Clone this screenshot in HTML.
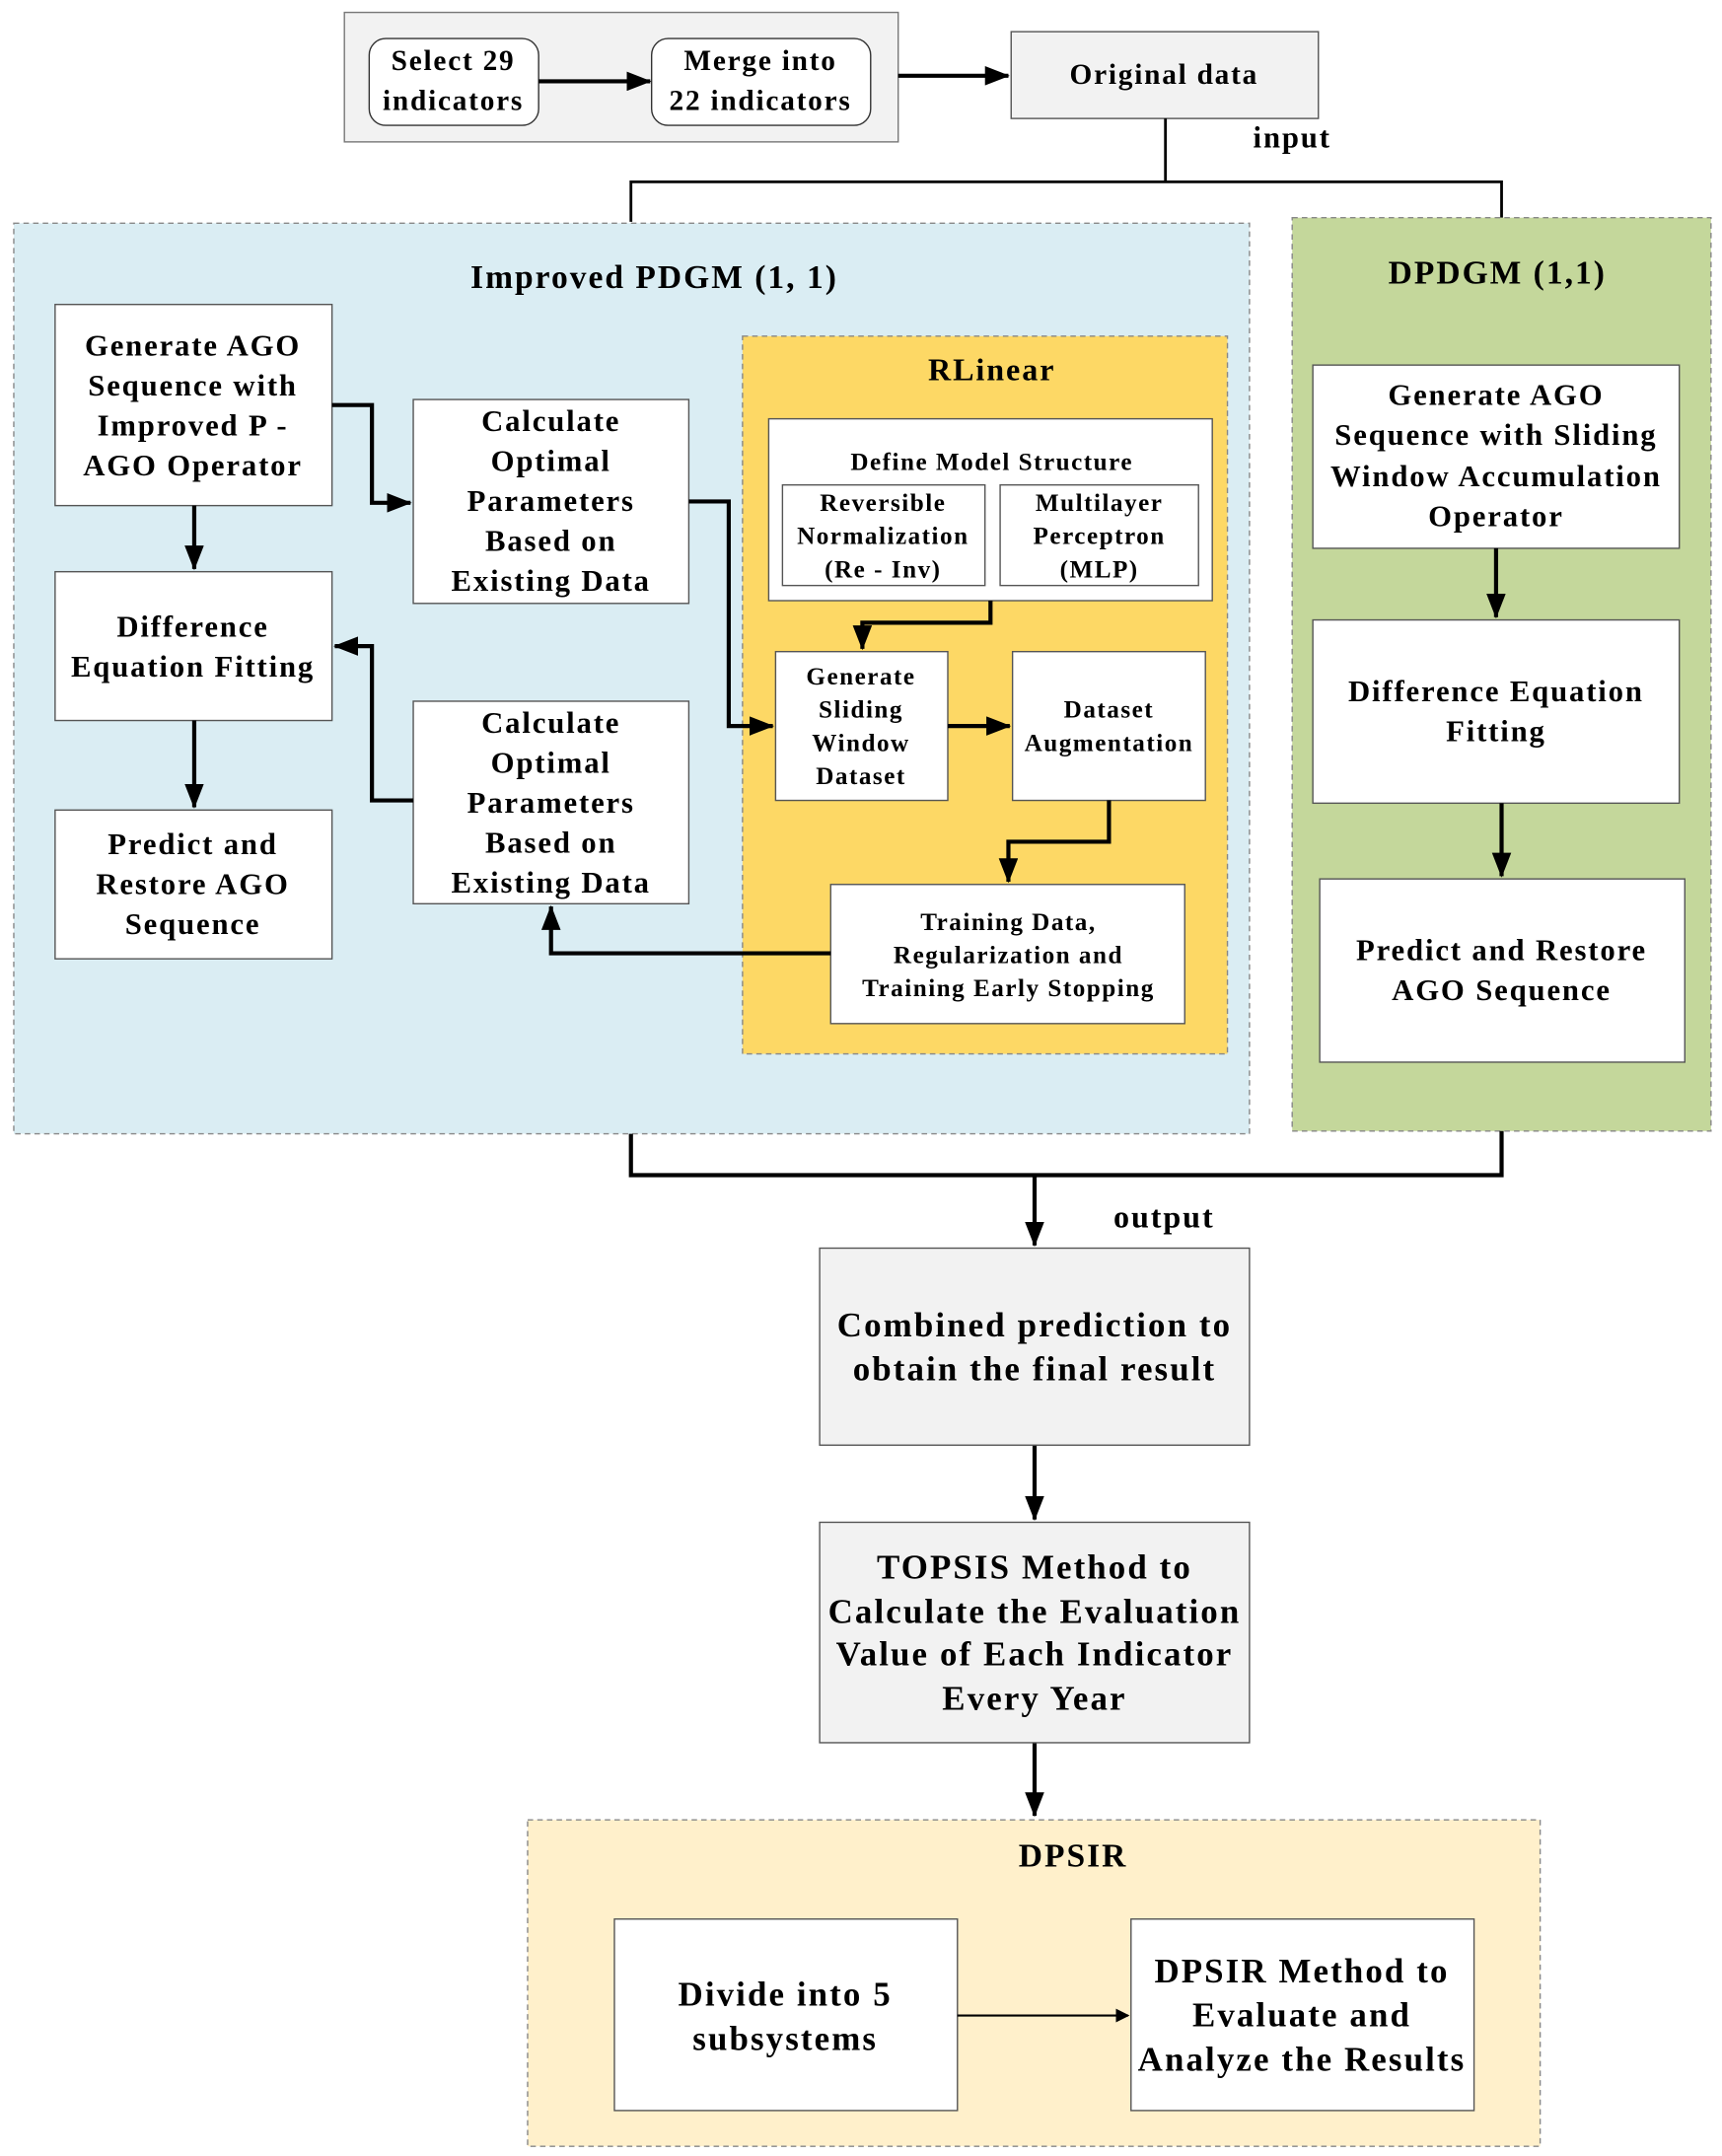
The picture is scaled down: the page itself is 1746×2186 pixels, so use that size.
<!DOCTYPE html>
<html><head><meta charset="utf-8"><style>
html,body{margin:0;padding:0;background:#fff}
svg{display:block}
text{font-family:"Liberation Serif",serif;font-weight:bold;fill:#000;text-anchor:middle;letter-spacing:0.06em}
</style></head><body>
<svg width="1746" height="2186" viewBox="0 0 1250 1565" preserveAspectRatio="none" xmlns="http://www.w3.org/2000/svg">
<defs>
<marker id="a" markerWidth="10" markerHeight="10" refX="9" refY="5" orient="auto" markerUnits="userSpaceOnUse" viewBox="0 0 10 10"><path d="M0,0 L10,5 L0,10 z" fill="#000"/></marker>
<marker id="b" markerWidth="18" markerHeight="14" refX="17" refY="7" orient="auto" markerUnits="userSpaceOnUse" viewBox="0 0 18 14"><path d="M0,0 L18,7 L0,14 z" fill="#000"/></marker>
</defs>
<rect x="250" y="9" width="402" height="94" fill="#f2f2f2" stroke="#777" stroke-width="1"/>
<rect x="268" y="28" width="123" height="63" rx="12" fill="#fff" stroke="#333"/>
<rect x="473" y="28" width="159" height="63" rx="12" fill="#fff" stroke="#333"/>
<text x="329" y="51" font-size="21">Select 29</text><text x="329" y="80" font-size="21">indicators</text>
<text x="552" y="51" font-size="21">Merge into</text><text x="552" y="80" font-size="21">22 indicators</text>
<line x1="391" y1="59" x2="472" y2="59" stroke="#000" stroke-width="3" marker-end="url(#b)"/>
<line x1="652" y1="55" x2="732" y2="55" stroke="#000" stroke-width="3" marker-end="url(#b)"/>
<rect x="734" y="23" width="223" height="63" fill="#f2f2f2" stroke="#555"/>
<text x="845" y="61" font-size="21">Original data</text>
<text x="938" y="107" font-size="22">input</text>
<path d="M846,86 V132 M458,161 V132 H1090 V158" fill="none" stroke="#000" stroke-width="2"/>
<rect x="10" y="162" width="897" height="661" fill="#daedf3" stroke="#888" stroke-dasharray="4,3"/>
<text x="475" y="209" font-size="24">Improved PDGM (1, 1)</text>
<g fill="#fff" stroke="#555">
<rect x="40" y="221" width="201" height="146"/><rect x="40" y="415" width="201" height="108"/><rect x="40" y="588" width="201" height="108"/>
<rect x="300" y="290" width="200" height="148"/><rect x="300" y="509" width="200" height="147"/>
</g>
<g font-size="22">
<text x="140" y="258">Generate AGO</text><text x="140" y="287">Sequence with</text><text x="140" y="316">Improved P -</text><text x="140" y="345">AGO Operator</text>
<text x="140" y="462">Difference</text><text x="140" y="491">Equation Fitting</text>
<text x="140" y="620">Predict and</text><text x="140" y="649">Restore AGO</text><text x="140" y="678">Sequence</text>
<text x="400" y="313">Calculate</text><text x="400" y="342">Optimal</text><text x="400" y="371">Parameters</text><text x="400" y="400">Based on</text><text x="400" y="429">Existing Data</text>
<text x="400" y="532">Calculate</text><text x="400" y="561">Optimal</text><text x="400" y="590">Parameters</text><text x="400" y="619">Based on</text><text x="400" y="648">Existing Data</text>
</g>
<rect x="539" y="244" width="352" height="521" fill="#fdd865" stroke="#888" stroke-dasharray="4,3"/>
<text x="720" y="276" font-size="23">RLinear</text>
<g fill="#fff" stroke="#555">
<rect x="558" y="304" width="322" height="132"/><rect x="568" y="352" width="147" height="73"/><rect x="726" y="352" width="144" height="73"/>
<rect x="563" y="473" width="125" height="108"/><rect x="735" y="473" width="140" height="108"/><rect x="603" y="642" width="257" height="101"/>
</g>
<g font-size="18">
<text x="720" y="341">Define Model Structure</text>
<text x="641" y="371">Reversible</text><text x="641" y="395">Normalization</text><text x="641" y="419">(Re - Inv)</text>
<text x="798" y="371">Multilayer</text><text x="798" y="395">Perceptron</text><text x="798" y="419">(MLP)</text>
<text x="625" y="497">Generate</text><text x="625" y="521">Sliding</text><text x="625" y="545">Window</text><text x="625" y="569">Dataset</text>
<text x="805" y="521">Dataset</text><text x="805" y="545">Augmentation</text>
<text x="732" y="675">Training Data,</text><text x="732" y="699">Regularization and</text><text x="732" y="723">Training Early Stopping</text>
</g>
<g fill="none" stroke="#000" stroke-width="3">
<path d="M141,367 V413" marker-end="url(#b)"/>
<path d="M141,523 V586" marker-end="url(#b)"/>
<path d="M241,294 H270 V365 H298" marker-end="url(#b)"/>
<path d="M500,364 H529 V527 H561" marker-end="url(#b)"/>
<path d="M300,581 H270 V469 H243" marker-end="url(#b)"/>
<path d="M719,436 V452 H626 V471" marker-end="url(#b)"/>
<path d="M688,527 H733" marker-end="url(#b)"/>
<path d="M805,581 V611 H732 V640" marker-end="url(#b)"/>
<path d="M603,692 H400 V658" marker-end="url(#b)"/>
</g>
<rect x="938" y="158" width="304" height="663" fill="#c4d79b" stroke="#888" stroke-dasharray="4,3"/>
<text x="1087" y="206" font-size="24">DPDGM (1,1)</text>
<g fill="#fff" stroke="#555">
<rect x="953" y="265" width="266" height="133"/><rect x="953" y="450" width="266" height="133"/><rect x="958" y="638" width="265" height="133"/>
</g>
<g font-size="22">
<text x="1086" y="294">Generate AGO</text><text x="1086" y="323">Sequence with Sliding</text><text x="1086" y="353">Window Accumulation</text><text x="1086" y="382">Operator</text>
<text x="1086" y="509">Difference Equation</text><text x="1086" y="538">Fitting</text>
<text x="1090" y="697">Predict and Restore</text><text x="1090" y="726">AGO Sequence</text>
</g>
<g fill="none" stroke="#000" stroke-width="3">
<path d="M1086,398 V448" marker-end="url(#b)"/>
<path d="M1090,583 V636" marker-end="url(#b)"/>
<path d="M458,823 V853 H1090 V821"/>
<path d="M751,853 V904" marker-end="url(#b)"/>
<path d="M751,1049 V1103" marker-end="url(#b)"/>
<path d="M751,1265 V1318" marker-end="url(#b)"/>
</g>
<text x="845" y="891" font-size="23">output</text>
<rect x="595" y="906" width="312" height="143" fill="#f2f2f2" stroke="#555"/>
<text x="751" y="970" font-size="25">Combined prediction to</text><text x="751" y="1002" font-size="25">obtain the final result</text>
<rect x="595" y="1105" width="312" height="160" fill="#f2f2f2" stroke="#555"/>
<g font-size="25"><text x="751" y="1146">TOPSIS Method to</text><text x="751" y="1178">Calculate the Evaluation</text><text x="751" y="1209">Value of Each Indicator</text><text x="751" y="1241">Every Year</text></g>
<rect x="383" y="1321" width="735" height="237" fill="#fff0cb" stroke="#888" stroke-dasharray="4,3"/>
<text x="779" y="1355" font-size="24">DPSIR</text>
<rect x="446" y="1393" width="249" height="139" fill="#fff" stroke="#555"/>
<rect x="821" y="1393" width="249" height="139" fill="#fff" stroke="#555"/>
<text x="570" y="1456" font-size="25">Divide into 5</text><text x="570" y="1488" font-size="25">subsystems</text>
<g font-size="25"><text x="945" y="1439">DPSIR Method to</text><text x="945" y="1471">Evaluate and</text><text x="945" y="1503">Analyze the Results</text></g>
<line x1="695" y1="1463" x2="819" y2="1463" stroke="#000" stroke-width="1.5" marker-end="url(#a)"/>
</svg>
</body></html>
